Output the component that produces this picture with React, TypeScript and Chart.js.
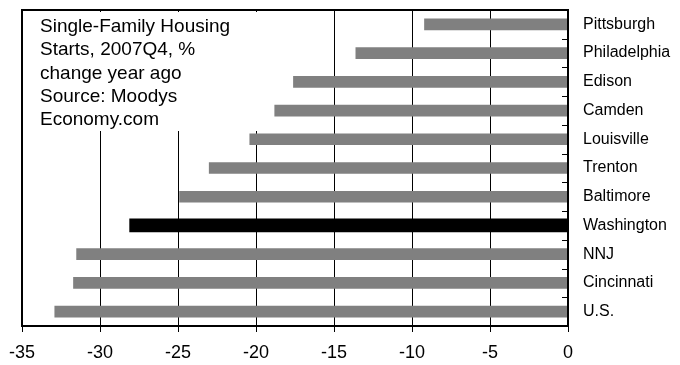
import React, { useEffect, useRef } from "react";
import { Chart, registerables } from "chart.js";

Chart.register(...registerables);

const categories = [
  "Pittsburgh",
  "Philadelphia",
  "Edison",
  "Camden",
  "Louisville",
  "Trenton",
  "Baltimore",
  "Washington",
  "NNJ",
  "Cincinnati",
  "U.S.",
];
const changeValues = [-9.2, -13.6, -17.6, -18.8, -20.4, -23.0, -24.9, -28.1, -31.5, -31.7, -32.9];
const highlightCategory = "Washington";
const xMin = -35;
const xMax = 0;
const xStep = 5;
const noteLines = [
  "Single-Family Housing",
  "Starts, 2007Q4, %",
  "change year ago",
  "Source: Moodys",
  "Economy.com",
];

const FONT = '"Liberation Sans", Arial, sans-serif';

const grayValues = categories.map((c, i) => (c === highlightCategory ? null : changeValues[i]));
const blackValues = categories.map((c, i) => (c === highlightCategory ? changeValues[i] : null));

const framePlugin = {
  id: "framePlugin",
  beforeDatasetsDraw(chart: any) {
    const { ctx, chartArea } = chart;
    ctx.save();
    // white note box
    ctx.fillStyle = "#ffffff";
    ctx.fillRect(chartArea.left + 1, chartArea.top + 2, 262 - chartArea.left, 131 - chartArea.top - 2);
    ctx.fillStyle = "#000000";
    ctx.font = `19px ${FONT}`;
    ctx.textBaseline = "alphabetic";
    ctx.textAlign = "left";
    noteLines.forEach((line, i) => {
      ctx.fillText(line, 40, 32 + i * 23.3);
    });
    ctx.restore();
  },
  afterDatasetsDraw(chart: any) {
    const { ctx, chartArea } = chart;
    const yScale = chart.scales.y;
    ctx.save();
    ctx.strokeStyle = "#000000";
    ctx.lineWidth = 2;
    ctx.strokeRect(chartArea.left, chartArea.top, chartArea.right - chartArea.left, chartArea.bottom - chartArea.top);
    // inside tick marks on right category axis, at category boundaries
    ctx.lineWidth = 1;
    ctx.beginPath();
    for (let i = 0; i < categories.length - 1; i++) {
      const y = Math.round(yScale.getPixelForValue(i + 0.5)) + 0.5;
      ctx.moveTo(chartArea.right - 6, y);
      ctx.lineTo(chartArea.right, y);
    }
    ctx.stroke();
    ctx.restore();
  },
};

export default function App() {
  const canvasRef = useRef<HTMLCanvasElement | null>(null);

  useEffect(() => {
    if (!canvasRef.current) return;
    const chart = new Chart(canvasRef.current, {
      type: "bar",
      data: {
        labels: categories,
        datasets: [
          {
            data: grayValues as any,
            backgroundColor: "#808080",
            barThickness: 11,
            grouped: false,
            skipNull: true,
          } as any,
          {
            data: blackValues as any,
            backgroundColor: "#000000",
            barThickness: 13,
            grouped: false,
            skipNull: true,
          } as any,
        ],
      },
      options: {
        indexAxis: "y",
        animation: false,
        responsive: false,
        layout: { padding: { left: 22, top: 10, right: 0, bottom: 0 } },
        plugins: {
          legend: { display: false },
          tooltip: { enabled: false },
          title: { display: false },
        },
        scales: {
          x: {
            type: "linear",
            min: xMin,
            max: xMax,
            ticks: {
              stepSize: xStep,
              color: "#000000",
              font: { family: FONT, size: 18 },
              padding: 10,
            },
            grid: {
              color: "#000000",
              lineWidth: 1,
              tickLength: 6,
              drawTicks: true,
              drawOnChartArea: true,
            },
            border: { display: false },
            afterFit: (axis: any) => {
              axis.height = 39;
              axis.paddingLeft = 0;
              axis.paddingRight = 0;
            },
          },
          y: {
            type: "category",
            position: "right",
            ticks: {
              color: "#000000",
              font: { family: FONT, size: 16 },
              padding: 15,
            },
            grid: { display: false, drawTicks: false, tickLength: 0 },
            border: { display: false },
            afterFit: (axis: any) => {
              axis.width = 112;
              axis.paddingTop = 0;
              axis.paddingBottom = 0;
            },
          },
        },
      } as any,
      plugins: [framePlugin],
    });
    return () => chart.destroy();
  }, []);

  return (
    <div style={{ position: "absolute", left: 0, top: 0, width: 680, height: 365, background: "#ffffff" }}>
      <canvas ref={canvasRef} width={680} height={365} style={{ display: "block" }} />
    </div>
  );
}
